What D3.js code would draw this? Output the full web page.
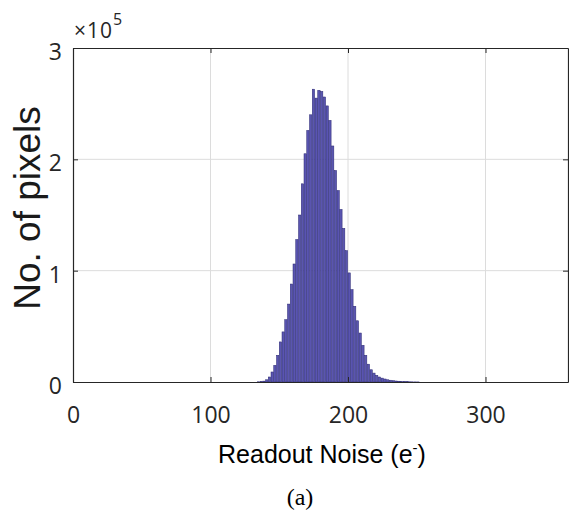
<!DOCTYPE html>
<html>
<head>
<meta charset="utf-8">
<script src="https://cdn.jsdelivr.net/npm/d3@7"></script>
<style>
  body { margin: 0; background: #fff; }
  svg { display: block; }
</style>
</head>
<body>
<svg id="chart" width="569" height="515"></svg>
<script>
// histogram bins (left edge, e-) and counts (x 10^5 pixels)
var binWidth = 2;
var binEdges = [134, 136, 138, 140, 142, 144, 146, 148, 150, 152, 154, 156, 158, 160, 162, 164,
  166, 168, 170, 172, 174, 176, 178, 180, 182, 184, 186, 188, 190, 192, 194, 196, 198, 200,
  202, 204, 206, 208, 210, 212, 214, 216, 218, 220, 222, 224, 226, 228, 230, 232, 234, 236,
  238, 240, 242, 244, 246, 248, 250];
var binCounts = [0.002, 0.004, 0.008, 0.02, 0.045, 0.09, 0.15, 0.24, 0.36, 0.45, 0.56, 0.70, 0.88, 1.06, 1.28, 1.50,
  1.78, 2.05, 2.26, 2.40, 2.63, 2.55, 2.62, 2.61, 2.56, 2.48, 2.35, 2.12, 1.90, 1.72, 1.55, 1.38, 1.18, 0.98,
  0.83, 0.68, 0.55, 0.44, 0.33, 0.24, 0.16, 0.11, 0.08, 0.06, 0.045, 0.035, 0.027, 0.02, 0.016, 0.012, 0.009, 0.007,
  0.005, 0.004, 0.003, 0.002, 0.0015, 0.001, 0.0008];
var xTicks = [0, 100, 200, 300];
var yTicks = [0, 1, 2, 3];

main();

function main() {
  var svg = d3.select('#chart');
  var plotLeft = 73, plotRight = 568, plotTop = 48, plotBottom = 382;

  var x = d3.scaleLinear().domain([0, 360]).range([plotLeft, plotRight]);
  var y = d3.scaleLinear().domain([0, 3]).range([plotBottom, plotTop]);

  var tickColor = '#262626';
  var tickFont = '"Open Sans", sans-serif';

  // grid lines
  svg.append('g')
    .selectAll('line')
    .data(xTicks.slice(1))
    .enter().append('line')
    .attr('x1', function(d) { return x(d); })
    .attr('x2', function(d) { return x(d); })
    .attr('y1', plotTop)
    .attr('y2', plotBottom)
    .attr('stroke', '#dcdcdc')
    .attr('stroke-width', 1);

  svg.append('g')
    .selectAll('line')
    .data(yTicks.slice(1, 3))
    .enter().append('line')
    .attr('x1', plotLeft)
    .attr('x2', plotRight)
    .attr('y1', function(d) { return y(d); })
    .attr('y2', function(d) { return y(d); })
    .attr('stroke', '#dcdcdc')
    .attr('stroke-width', 1);

  // bars
  svg.append('g')
    .selectAll('rect')
    .data(binEdges)
    .enter().append('rect')
    .attr('x', function(d) { return x(d); })
    .attr('width', function(d) { return x(d + binWidth) - x(d) - 0.4; })
    .attr('y', function(d, i) { return y(binCounts[i]); })
    .attr('height', function(d, i) { return plotBottom - y(binCounts[i]); })
    .attr('fill', '#5a55b0')
    .attr('stroke', '#2b2872')
    .attr('stroke-width', 0.5);

  // axes box, ticks pointing inward like matlab
  var xAxis = d3.axisBottom(x).tickValues(xTicks).tickSizeInner(-5).tickSizeOuter(0).tickPadding(25);
  var yAxis = d3.axisLeft(y).tickValues(yTicks).tickSizeInner(-5).tickSizeOuter(0).tickPadding(11)
    .tickFormat(d3.format('d'));

  svg.append('g').attr('transform', 'translate(0,' + plotBottom + ')').call(xAxis);
  var gy = svg.append('g').attr('transform', 'translate(' + plotLeft + ',0)').call(yAxis);

  svg.append('g').attr('transform', 'translate(0,' + plotTop + ')')
    .call(d3.axisTop(x).tickValues(xTicks).tickSizeInner(-5).tickSizeOuter(0).tickFormat(''));
  svg.append('g').attr('transform', 'translate(' + plotRight + ',0)')
    .call(d3.axisRight(y).tickValues(yTicks).tickSizeInner(-5).tickSizeOuter(0).tickFormat(''));

  svg.selectAll('.domain').attr('stroke', tickColor).attr('stroke-width', 1.2);
  svg.selectAll('.tick line').attr('stroke', tickColor);
  svg.selectAll('.tick text')
    .attr('fill', tickColor)
    .style('font-family', tickFont)
    .style('font-size', '23px');
  gy.selectAll('.tick text').attr('dy', '0.5em');

  // exponent label
  var expo = svg.append('text')
    .attr('x', plotLeft + 1)
    .attr('y', 38)
    .attr('fill', tickColor)
    .style('font-family', tickFont)
    .style('font-size', '21px')
    .style('letter-spacing', '1px');
  expo.append('tspan').text('\u00d710');
  expo.append('tspan').attr('dy', -13).style('font-size', '16px').text('5');

  // axis titles
  svg.append('text')
    .attr('transform', 'translate(40,208) rotate(-90)')
    .attr('text-anchor', 'middle')
    .attr('fill', '#1a1a1a')
    .style('font-family', '"Liberation Sans", Arial, sans-serif')
    .style('font-size', '37px')
    .text('No. of pixels');

  var xl = svg.append('text')
    .attr('x', 322)
    .attr('y', 463)
    .attr('text-anchor', 'middle')
    .attr('fill', '#000')
    .style('font-family', '"Liberation Sans", Arial, sans-serif')
    .style('font-size', '25px');
  xl.append('tspan').text('Readout Noise (e');
  xl.append('tspan').attr('dy', -10).style('font-size', '15px').text('-');
  xl.append('tspan').attr('dy', 10).text(')');

  svg.append('text')
    .attr('x', 300)
    .attr('y', 505)
    .attr('text-anchor', 'middle')
    .attr('fill', '#000')
    .style('font-family', '"Liberation Serif", "Times New Roman", serif')
    .style('font-size', '24px')
    .text('(a)');
}
</script>
</body>
</html>
